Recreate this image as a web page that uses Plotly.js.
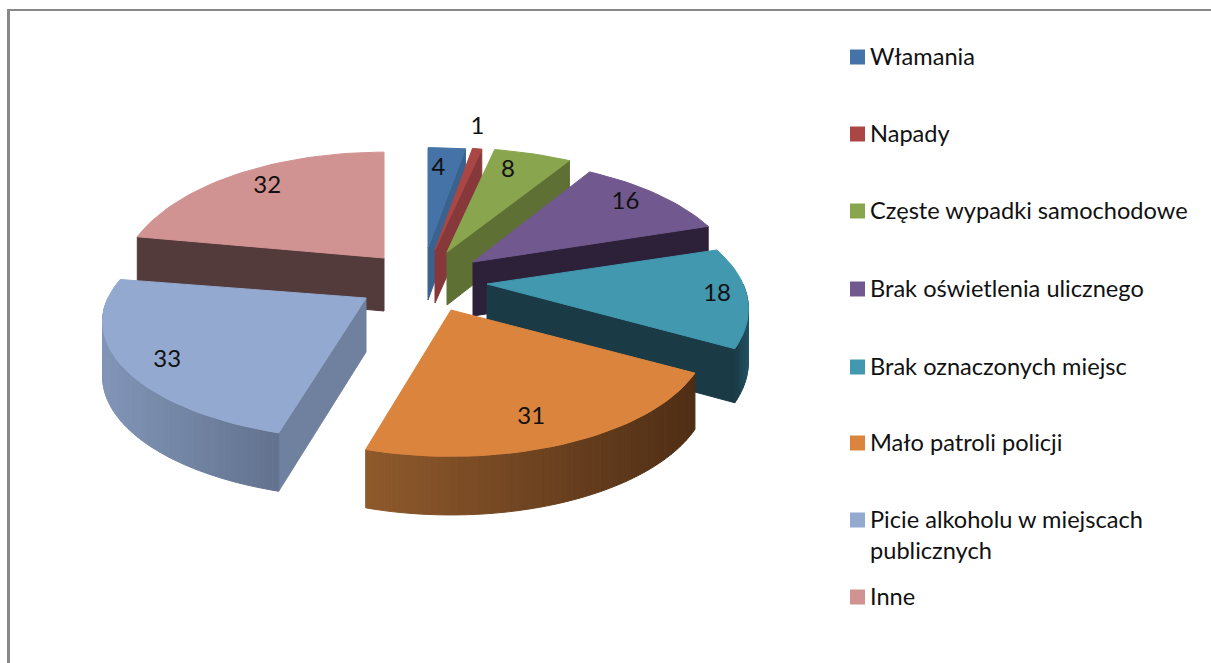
<!DOCTYPE html>
<html><head><meta charset="utf-8">
<script src="https://cdn.plot.ly/plotly-3.0.1.min.js"></script>
<style>html,body{margin:0;padding:0;background:#fff}#c{width:1211px;height:663px}</style>
</head><body><div id="c"></div>
<script>
// --- data ---
const categories = ["Włamania","Napady","Częste wypadki samochodowe","Brak oświetlenia ulicznego","Brak oznaczonych miejsc","Mało patroli policji","Picie alkoholu w miejscach<br>publicznych","Inne"];
const values = [4,1,8,16,18,31,33,32];
const topColors = ["#4573a7","#aa4644","#89a54e","#71588f","#4198af","#db843d","#93a9cf","#d19392"];
const wallColors = ["#3a628f","#87383a","#5f7035","#2c2139","#1a3a46","#5a3316","#6f819f","#533a3b"];
const rimLeft = ["#3a628f","#87383a","#5f7035","#2c2139","#1a3a46","#8f5a2c","#8094b6","#533a3b"];
const rimRight = ["#3a628f","#87383a","#5f7035","#2c2139","#1f4a58","#4f2e15","#62728e","#533a3b"];
// --- 3D pie geometry (exploded pie, one ellipse per slice) ---
const apexX = [428,435,447,473,487,451,366,384];
const apexY = [248,250,252,262,284,310,298,258];
const radiusX = [270,270,275,262,256,252,258,259];
const radiusY = [127,130,132,130,124,121,117,134];
const depth = [52,53,53,54,52,54,54,53];
const labelFrac = [0.79,1.2,0.81,0.85,0.885,0.79,0.84,0.83];
const labelShift = [-1.5,-1.8,-2.7,-1,0,3,-3,0];
const perspective = 0.21;
const drawOrder = [7,0,1,2,3,4,6,5];
const legendY = [57,134,211,289,367,443,520,597];
const legendSwatchX = 857.5, legendTextX = 869, legendFontSize = 23.6;

const total = values.reduce((a,b)=>a+b,0);
const starts = []; let acc = 0;
values.forEach(v=>{starts.push(acc/total*360); acc+=v;});
const rad = d=>d*Math.PI/180;
function persp(deg){return 1-perspective*Math.cos(rad(deg));}
function pt(i,deg,f=1){
  const c=Math.cos(rad(deg)), s=Math.sin(rad(deg)), p=persp(deg);
  return [apexX[i]+radiusX[i]*s*p*f, apexY[i]-radiusY[i]*c*p*f];
}
function drop(i,deg){return depth[i]*(1+0.4*(persp(deg)-1));}
function hex(c){return [1,3,5].map(k=>parseInt(c.substr(k,2),16));}
function mix(a,b,t){const A=hex(a),B=hex(b);return "rgb("+A.map((x,k)=>Math.round(x+(B[k]-x)*t)).join(",")+")";}
function poly(pts,color,extra){
  return Object.assign({type:"scatter",mode:"lines",x:pts.map(p=>p[0]).concat(pts[0][0]),y:pts.map(p=>p[1]).concat(pts[0][1]),
    fill:"toself",fillcolor:color,line:{color:color,width:1},hoverinfo:"skip",showlegend:false},extra||{});
}
const traces=[];
drawOrder.forEach(i=>{
  const a=starts[i], b=a+values[i]/total*360, h=depth[i];
  const A=[apexX[i],apexY[i]];
  // cut walls
  if(Math.sin(rad(a))<0){const P=pt(i,a);traces.push(poly([A,P,[P[0],P[1]+drop(i,a)],[A[0],A[1]+h]],wallColors[i]));}
  if(Math.sin(rad(b))>0){const P=pt(i,b);traces.push(poly([A,P,[P[0],P[1]+drop(i,b)],[A[0],A[1]+h]],wallColors[i]));}
  // outer rim
  const lo=Math.max(a,90), hi=Math.min(b,270);
  if(hi>lo){
    const n=Math.max(8,Math.round((hi-lo)*0.8)), xl=pt(i,hi)[0], xr=pt(i,lo)[0];
    for(let k=0;k<n;k++){
      const t0=lo+(hi-lo)*k/n, t1=lo+(hi-lo)*(k+1)/n;
      const P=pt(i,t0),Q=pt(i,t1);
      const u=((P[0]+Q[0])/2-xl)/Math.max(1,xr-xl);
      traces.push(poly([P,Q,[Q[0],Q[1]+drop(i,t1)],[P[0],P[1]+drop(i,t0)]],mix(rimLeft[i],rimRight[i],u)));
    }
  }
  // top face
  const pts=[A]; const n=Math.max(4,Math.round((b-a)/2));
  for(let k=0;k<=n;k++) pts.push(pt(i,a+(b-a)*k/n));
  traces.push(poly(pts,topColors[i],{name:categories[i],hoverinfo:"name"}));
});
// value labels
const labelPts=values.map((v,i)=>pt(i,starts[i]+v/total*180+labelShift[i],labelFrac[i]));
traces.push({type:"scatter",mode:"text",x:labelPts.map(p=>p[0]),y:labelPts.map(p=>p[1]),text:values.map(String),
  textposition:"middle center",textfont:{family:"Lato, 'Open Sans', sans-serif",size:24,color:"#111"},hoverinfo:"skip",showlegend:false});
// legend swatches
traces.push({type:"scatter",mode:"markers",x:categories.map(()=>legendSwatchX),y:legendY,
  marker:{symbol:"square",size:15,color:topColors,line:{width:0}},text:categories,hoverinfo:"text",showlegend:false});
const annotations=categories.map((c,i)=>({xref:"x",yref:"y",x:legendTextX,y:legendY[i]-16,xanchor:"left",yanchor:"top",align:"left",
  text:c,showarrow:false,borderpad:0,font:{family:"Lato, 'Open Sans', sans-serif",size:legendFontSize,color:"#111"}}));
const layout={width:1211,height:663,margin:{l:0,r:0,t:0,b:0},paper_bgcolor:"#fff",plot_bgcolor:"#fff",showlegend:false,
  xaxis:{range:[0,1211],visible:false,fixedrange:true},
  yaxis:{range:[663,0],visible:false,fixedrange:true},
  annotations,
  shapes:[
    {type:"line",xref:"x",yref:"y",x0:7,x1:1211,y0:10,y1:10,line:{color:"#888",width:2}},
    {type:"line",xref:"x",yref:"y",x0:8.5,x1:8.5,y0:9,y1:663,line:{color:"#888",width:3}}
  ]};
Plotly.newPlot("c",traces,layout,{displayModeBar:false});
</script></body></html>
